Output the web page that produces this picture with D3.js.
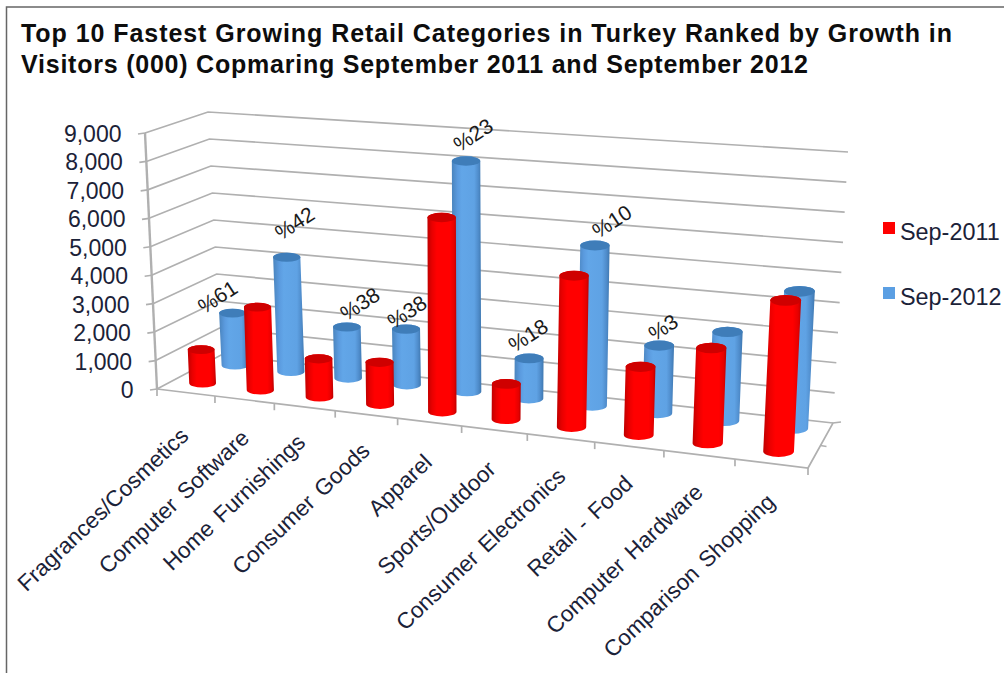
<!DOCTYPE html>
<html>
<head>
<meta charset="utf-8">
<style>
html,body{margin:0;padding:0;background:#fff;}
svg{display:block;}
text{font-family:"Liberation Sans",Arial,sans-serif;}
</style>
<script src="https://cdn.jsdelivr.net/npm/d3@7/dist/d3.min.js"></script>
</head>
<body>
<svg id="chart" width="1004" height="673"></svg>
<script>
// Chart content
const titleLines = [
  "Top 10 Fastest Growing Retail Categories in Turkey Ranked by Growth in",
  "Visitors (000) Copmaring September 2011 and September 2012"
];
const categories = ["Fragrances/Cosmetics","Computer Software","Home Furnishings","Consumer Goods","Apparel",
  "Sports/Outdoor","Consumer Electronics","Retail - Food","Computer Hardware","Comparison Shopping"];
const sep2011 = [1190,2900,1320,1430,6530,1170,4950,2200,3030,4750];
const sep2012 = [1900,4120,1820,1960,8030,1380,5450,2270,2950,4500];
const growthLabels = ["%61","%42","%38","%38","%23","%18","%10","%3",null,null];
const valueTicks = d3.range(0, 9001, 1000);

// Layout of the perspective box: floor corners, and the rise of a 9,000 column at each corner
const floorFL = [157,389], floorFR = [808,468], floorBL = [221,355], floorBR = [833,423];
const riseFL = [-12,-256], riseFR = [15,-295], riseBL = [-13,-243], riseBR = [15,-271];
const foreshorten = 1.137;
const depthOf = {sep2011:0.27, sep2012:0.79};
const labelNudge = [[-11,-17],[12,-35],[17,-24],[5,-18],[11,-27],[3,-24],[21,-25],[8,-19]];
const catLabelShift = [[4,45],[6,40],[2,37],[5,38],[4,42],[3,41],[6,40],[5,39],[5,39],[5,40]];

const mix = (a,b,t) => [d3.scaleLinear().domain([0,1]).range([a[0],b[0]])(t), d3.scaleLinear().domain([0,1]).range([a[1],b[1]])(t)];
const categoryPos = d3.scaleLinear().domain([0,categories.length]).range([0,1]);
const perspective = u => { const t = categoryPos(u); return t/(t+foreshorten*(1-t)); };
const valueFrac = d3.scaleLinear().domain([0,9000]).range([0,1]);

// Project (category position, depth 0..1, value) on to the page
function project(u, depth, value){
  const s = perspective(u);
  const base = mix(mix(floorFL,floorFR,s), mix(floorBL,floorBR,s), depth);
  const rise = mix(mix(riseFL,riseFR,s), mix(riseBL,riseBR,s), depth);
  const f = valueFrac(value);
  return [base[0]+rise[0]*f, base[1]+rise[1]*f];
}

const svg = d3.select("#chart");
const defs = svg.append("defs");
function gradient(id, stops){
  const g = defs.append("linearGradient").attr("id",id).attr("x1",0).attr("x2",1).attr("y1",0).attr("y2",0);
  stops.forEach(([o,c]) => g.append("stop").attr("offset",o).attr("stop-color",c));
}
gradient("redBody",[[0,"#c00000"],[.16,"#e80000"],[.32,"#ff0000"],[.78,"#ff0000"],[.92,"#e60000"],[1,"#bb0000"]]);
gradient("blueBody",[[0,"#4a84bd"],[.2,"#5b9bdf"],[.34,"#62a6e8"],[.76,"#5fa2e4"],[.9,"#4f8ccb"],[1,"#3f78b0"]]);

// Chart frame
svg.append("path").attr("d","M6.5,673V7H1004").attr("fill","none").attr("stroke","#666").attr("stroke-width",1.5);

// Title
svg.append("g").selectAll("text").data(titleLines).join("text")
  .attr("x",21).attr("y",(d,i)=>42+i*31)
  .attr("font-size",25).attr("font-weight","bold").attr("fill","#0d0d0d")
  .attr("textLength",(d,i)=> i===0 ? 931 : 787).attr("lengthAdjust","spacing")
  .text(d=>d);

// Walls and gridlines
const line = d3.line();
const grid = svg.append("g").attr("fill","none").attr("stroke","#b0b0b0").attr("stroke-width",1.7);
valueTicks.forEach(v=>{
  grid.append("path").attr("d",line([project(0,0,v),project(0,1,v),project(10,1,v)]));
  const p = project(0,0,v);
  grid.append("path").attr("d",line([[p[0]-7,p[1]+1],p]));
});
grid.append("path").attr("d",line([project(0,0,0),project(0,0,9000)])).attr("stroke-width",2.4);
grid.append("path").attr("d",line([project(0,0,0),project(10,0,0),project(10,1,0),[project(10,1,0)[0]+8,project(10,1,0)[1]-1]]));
d3.range(0,11).forEach(u=>{
  const p = project(u,0,0);
  grid.append("path").attr("d",line([p,[p[0],p[1]+7]]));
});
[0.5].forEach(d=>{
  const p = project(10,d,0);
  grid.append("path").attr("d",line([p,[p[0]+6,p[1]+1]]));
});

// Value axis labels follow the slant of the axis
svg.append("g").selectAll("text").data(valueTicks).join("text")
  .attr("x",d=>project(0,0,d)[0]-23.5).attr("y",d=>project(0,0,d)[1]+9)
  .attr("text-anchor","end").attr("font-size",23).attr("fill","#1b2238")
  .text(d3.format(","));

// One cylinder per value, back row first so the front row overlaps it
function drawSeries(values, depth, bodyFill, capFill){
  const g = svg.append("g");
  values.forEach((v,i)=>{
    const u = i+0.5;
    const s = perspective(u);
    const rx = d3.scaleLinear().domain([0,1]).range([13.3,15.5])(s);
    const ry = d3.scaleLinear().domain([0,1]).range([4.3,5.4])(s);
    const b = project(u,depth,0), t = project(u,depth,v);
    g.append("path").attr("fill",bodyFill).attr("d",
      `M${t[0]-rx},${t[1]}L${b[0]-rx},${b[1]}A${rx},${ry} 0 0 0 ${b[0]+rx},${b[1]}L${t[0]+rx},${t[1]}A${rx},${ry} 0 0 0 ${t[0]-rx},${t[1]}Z`);
    g.append("ellipse").attr("cx",t[0]).attr("cy",t[1]).attr("rx",rx).attr("ry",ry).attr("fill",capFill);
  });
}
drawSeries(sep2012, depthOf.sep2012, "url(#blueBody)", "#3f7db9");
drawSeries(sep2011, depthOf.sep2011, "url(#redBody)", "#cf0000");

// Growth labels above the back row
svg.append("g").selectAll("text").data(growthLabels.map((d,i)=>({d,i})).filter(o=>o.d)).join("text")
  .attr("text-anchor","middle").attr("font-size",21).attr("fill","#1a1a1a")
  .attr("transform",o=>{
    const t = project(o.i+0.5,depthOf.sep2012,sep2012[o.i]);
    return `translate(${t[0]+labelNudge[o.i][0]},${t[1]+labelNudge[o.i][1]+7}) rotate(-33)`;
  })
  .text(o=>o.d);

// Slanted category labels, ending under their tick
svg.append("g").selectAll("text").data(categories).join("text")
  .attr("text-anchor","end").attr("font-size",22.5).attr("word-spacing",3).attr("fill","#1b2238")
  .attr("transform",(d,i)=>{
    const p = project(i+0.5,0,0);
    return `translate(${p[0]+catLabelShift[i][0]},${p[1]+catLabelShift[i][1]}) rotate(-43.5)`;
  })
  .text(d=>d);

// Legend
const legendItems = [["Sep-2011","#ff0000"],["Sep-2012","#5b9fe3"]];
const legend = svg.append("g").selectAll("g").data(legendItems).join("g")
  .attr("transform",(d,i)=>`translate(883,${222+i*65})`);
legend.append("rect").attr("width",12).attr("height",12).attr("fill",d=>d[1]);
legend.append("text").attr("x",17).attr("y",18).attr("font-size",23.4).attr("fill","#1b2238").text(d=>d[0]);
</script>
</body>
</html>
